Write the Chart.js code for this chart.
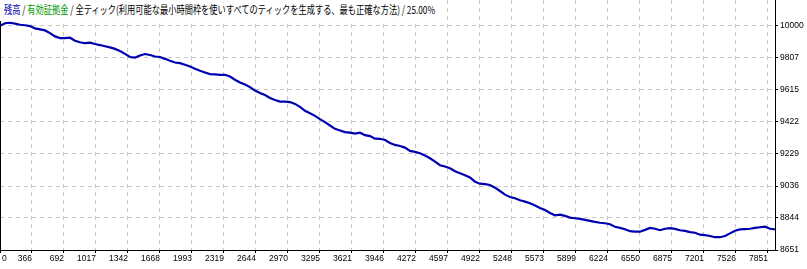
<!DOCTYPE html>
<html><head><meta charset="utf-8">
<script src="https://cdn.jsdelivr.net/npm/chart.js@4/dist/chart.umd.min.js"></script>
<style>
html,body{margin:0;padding:0;background:#fff;}
#wrap{position:relative;width:807px;height:269px;overflow:hidden;}
#c{display:block;}
#title{position:absolute;left:0;top:0;height:21px;padding:0 3px 0 4px;background:#fff;}
#titleText{display:inline-block;white-space:nowrap;font-family:"Noto Sans CJK JP";font-size:11px;line-height:18px;color:#000;transform-origin:0 0;}
</style></head><body>
<div id="wrap"><canvas id="c" width="807" height="269"></canvas>
<div id="title"><span id="titleText"></span></div></div>
<script>
// ---- data ----
const titleParts = [
  {text:'残高', color:'#0000b0'},
  {text:' / ', color:'#000'},
  {text:'有効証拠金', color:'#009a00'},
  {text:' / 全ティック(利用可能な最小時間枠を使いすべてのティックを生成する、最も正確な方法) / 25.00%', color:'#000'}
];
const xTickLabels = ['0','366','692','1017','1342','1668','1993','2319','2644','2970','3295','3621','3946','4272','4597','4922','5248','5573','5899','6224','6550','6875','7201','7526','7851'];
const yTickValues = [8651,8844,9036,9229,9422,9615,9807,10000];
const X_MAX = 7923;          // trades shown across the plot
const X_GRID_STEP = 327.125; // trades between labelled grid lines
const Y_MIN = 8651;
const Y_MAX = 10155;
// balance sampled at even steps across the trade range
const balance = [
10000,10015,10018,10013,10006,10003,9998,9984,9978,9972,
9956,9936,9926,9926,9928,9910,9901,9895,9898,9890,
9884,9877,9870,9861,9848,9831,9812,9809,9821,9830,
9824,9815,9812,9801,9789,9779,9775,9765,9755,9741,
9729,9719,9709,9707,9705,9705,9695,9675,9659,9647,
9631,9610,9595,9583,9566,9553,9544,9544,9541,9530,
9512,9488,9474,9458,9438,9420,9400,9380,9370,9360,
9357,9351,9357,9342,9336,9321,9320,9313,9295,9283,
9277,9267,9247,9241,9233,9219,9203,9183,9161,9153,
9143,9125,9113,9101,9087,9062,9050,9047,9042,9026,
9006,8984,8970,8962,8950,8942,8932,8918,8904,8892,
8874,8860,8864,8856,8846,8842,8838,8832,8826,8820,
8815,8812,8806,8791,8784,8776,8764,8761,8761,8772,
8784,8779,8770,8779,8782,8778,8770,8766,8759,8755,
8743,8740,8735,8728,8728,8735,8751,8767,8775,8777,
8779,8784,8788,8791,8779,8775];
const SAMPLE_STEP = X_MAX / (balance.length - 1);

// ---- title ----
const tt = document.getElementById('titleText');
titleParts.forEach(p => { const s = document.createElement('span'); s.textContent = p.text; s.style.color = p.color; tt.appendChild(s); });
const w = tt.getBoundingClientRect().width;
tt.style.transform = 'scaleX(' + (431 / w) + ')';
document.getElementById('title').style.width = '431px';

// ---- chart ----
const tickFont = {family:'"Liberation Sans"', size:8.5};
const extras = {
  id:'extras',
  afterDraw(chart){
    const {ctx, chartArea:a, scales:{x}} = chart;
    ctx.save();
    ctx.strokeStyle = '#000'; ctx.lineWidth = 1;
    ctx.beginPath(); ctx.moveTo(a.left + 0.5, a.top); ctx.lineTo(a.left + 0.5, a.bottom); ctx.stroke();
    const items = x.getLabelItems();
    const ref = items[1];
    ctx.fillStyle = '#000';
    ctx.font = tickFont.size + 'px ' + tickFont.family;
    ctx.textAlign = 'left';
    ctx.textBaseline = ref.options.textBaseline;
    ctx.fillText(xTickLabels[0], x.getPixelForValue(0) + 2, ref.options.translation[1] + ref.textOffset);
    ctx.restore();
  }
};

new Chart(document.getElementById('c'), {
  type:'line',
  data:{datasets:[{
    data: balance.map((v,i)=>({x:i*SAMPLE_STEP, y:v})),
    borderColor:'#0000b0', borderWidth:2.2, pointRadius:0, tension:0, fill:false
  }]},
  options:{
    responsive:false, animation:false, devicePixelRatio:1,
    layout:{padding:0},
    plugins:{legend:{display:false}, tooltip:{enabled:false}},
    scales:{
      x:{
        type:'linear', position:'bottom', min:0, max:X_MAX,
        afterBuildTicks:s=>{ s.ticks = xTickLabels.map((_,i)=>({value:i*X_GRID_STEP})); },
        afterFit:s=>{ s.height = 19; s.paddingLeft = 0; s.paddingRight = 0; },
        ticks:{autoSkip:false, maxRotation:0, minRotation:0, align:'end', padding:1, color:'#000', font:tickFont,
          callback:(v,i)=> i===0 ? '' : xTickLabels[i]},
        grid:{color:'#c8c8c8', lineWidth:1, tickLength:3, tickColor:'#000', tickBorderDash:[]},
        border:{display:true, color:'#000', width:1, dash:[4,4]}
      },
      y:{
        type:'linear', position:'right', min:Y_MIN, max:Y_MAX,
        afterBuildTicks:s=>{ s.ticks = yTickValues.map(v=>({value:v})); },
        afterFit:s=>{ s.width = 32; s.paddingTop = 0; s.paddingBottom = 0; },
        ticks:{padding:2, color:'#000', font:tickFont, callback:v=>String(v)},
        grid:{color:'#c8c8c8', lineWidth:1, tickLength:3, tickColor:'#000', tickBorderDash:[]},
        border:{display:true, color:'#000', width:1, dash:[4,4]}
      }
    }
  },
  plugins:[extras]
});
</script>
</body></html>
